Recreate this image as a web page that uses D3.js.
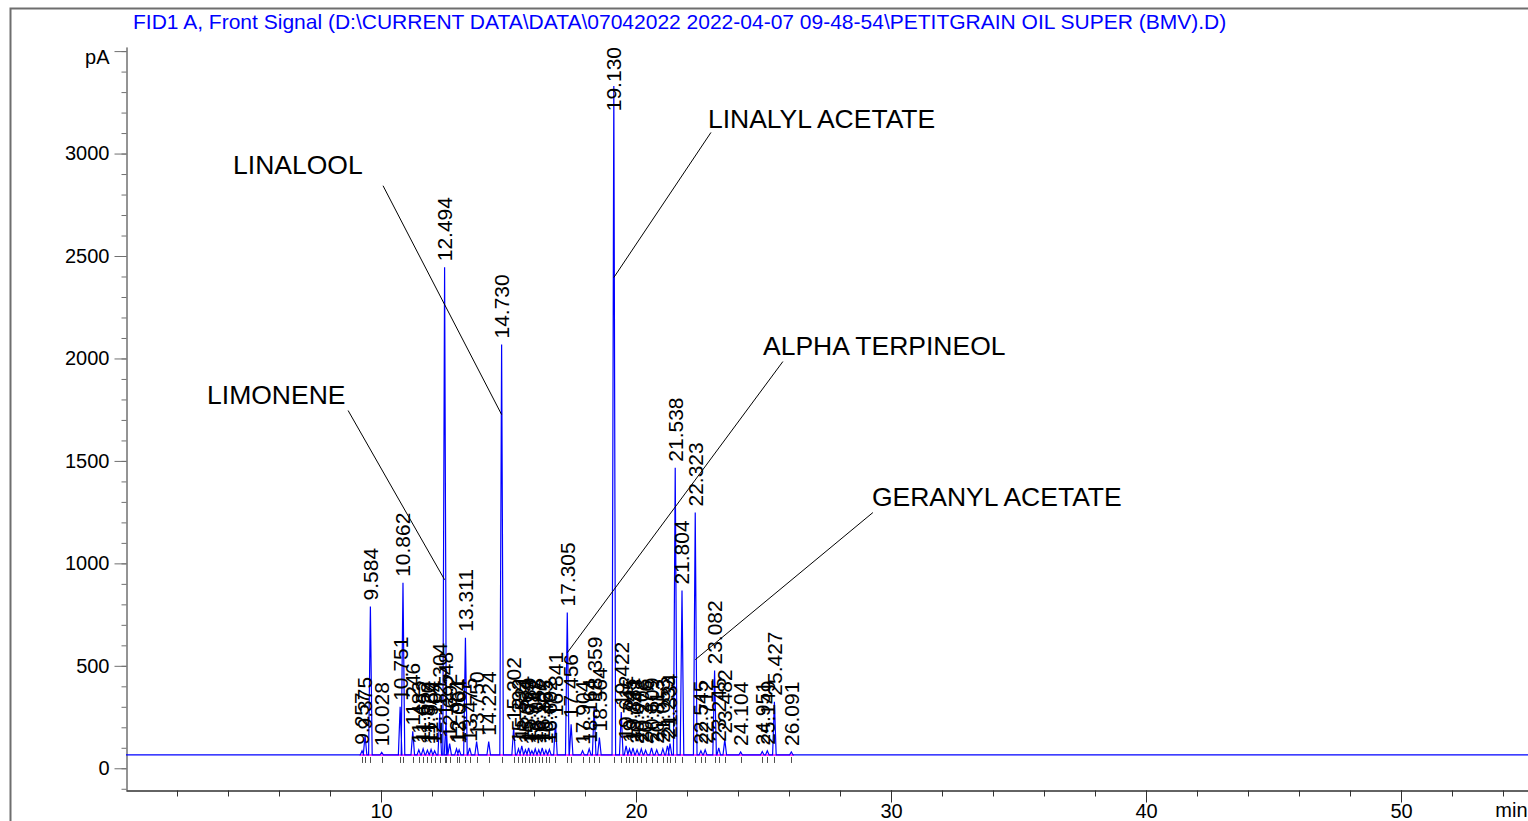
<!DOCTYPE html>
<html>
<head>
<meta charset="utf-8">
<script src="https://cdn.jsdelivr.net/npm/d3@7"></script>
<style>
body { margin: 0; background: #fff; }
svg { display: block; font-family: "Liberation Sans", Arial, sans-serif; }
</style>
</head>
<body>
<script>
var title = "FID1 A, Front Signal (D:\\CURRENT DATA\\DATA\\07042022 2022-04-07 09-48-54\\PETITGRAIN OIL SUPER (BMV).D)";

// retention time (min) and apex signal (pA)
var peakTimes = [9.257, 9.375, 9.584, 10.028, 10.751, 10.862, 11.246, 11.483, 11.652, 11.820,
  11.964, 12.104, 12.304, 12.494, 12.548, 12.692, 12.961, 13.064, 13.311, 13.475,
  13.750, 14.224, 14.730, 15.202, 15.392, 15.521, 15.664, 15.789, 15.917, 16.048,
  16.187, 16.322, 16.465, 16.602, 16.841, 17.305, 17.456, 17.904, 18.164, 18.359,
  18.564, 19.130, 19.422, 19.612, 19.745, 19.881, 20.042, 20.208, 20.376, 20.609,
  20.813, 21.053, 21.233, 21.334, 21.538, 21.804, 22.323, 22.545, 22.712, 23.082,
  23.245, 23.482, 24.104, 24.951, 25.149, 25.427, 26.091];
var peakHeights = [85, 160, 790, 78, 300, 905, 180, 90, 95, 88,
  92, 85, 270, 2445, 225, 120, 95, 90, 637, 100,
  130, 130, 2068, 200, 95, 110, 90, 100, 85, 95,
  90, 100, 88, 92, 225, 760, 215, 85, 95, 300,
  150, 3330, 275, 110, 95, 100, 90, 95, 88, 100,
  90, 95, 110, 120, 1467, 867, 1248, 85, 90, 477,
  100, 140, 80, 82, 85, 325, 80];
var baselineLevel = 65;
var runStart = 0, runEnd = 55;

var yMajorTicks = [0, 500, 1000, 1500, 2000, 2500, 3000, 3500];
var xMajorTicks = [10, 20, 30, 40, 50];

// compound notes: text position and leader line, in minutes / pA
var noteLabels = ["LINALYL ACETATE", "LINALOOL", "LIMONENE", "ALPHA TERPINEOL", "GERANYL ACETATE"];
var noteTextTime = [22.82, 4.20, 3.18, 24.98, 29.25];
var noteTextSignal = [3171, 2947, 1824, 2063, 1326];
var noteFromTime = [22.94, 10.08, 8.71, 25.76, 29.29];
var noteFromSignal = [3103, 2843, 1746, 1985, 1248];
var noteToTime = [19.130, 14.730, 12.494, 17.305, 22.323];
var noteToSignal = [2395, 1726, 920, 564, 530];

var W = 1528, H = 821;
var svg = d3.select('body').append('svg')
  .attr('width', W)
  .attr('height', H);

svg.append('rect')
  .attr('x', 10.5).attr('y', 8.5)
  .attr('width', W + 50).attr('height', H + 50)
  .attr('fill', '#fff')
  .attr('stroke', '#6e6e6e')
  .attr('stroke-width', 2);

var x = d3.scaleLinear().domain([runStart, runEnd]).range([126, 1528.5]);
var y = d3.scaleLinear().domain([-106, 3520]).range([790, 47]);

svg.append('text')
  .attr('x', 133)
  .attr('y', 29)
  .attr('fill', '#0000ff')
  .attr('font-size', 21)
  .text(title);

// axes
var yAxisG = svg.append('g').attr('transform', 'translate(126.5,0)');
yAxisG.append('g')
  .call(d3.axisLeft(y).tickValues(d3.range(-100, 3501, 100)).tickSize(5).tickSizeOuter(0).tickFormat(''));
yAxisG.append('g')
  .call(d3.axisLeft(y).tickValues(yMajorTicks).tickSize(12).tickSizeOuter(0).tickPadding(5)
    .tickFormat(function (d) { return d == 3500 ? 'pA' : d; }));
yAxisG.selectAll('path, line').attr('stroke', '#707070');
yAxisG.selectAll('text').attr('font-size', 20).attr('font-family', 'Liberation Sans, Arial, sans-serif').attr('fill', '#000');
yAxisG.selectAll('text').filter(function (d) { return d == 3500; }).attr('dy', '0.62em');

var xAxisG = svg.append('g').attr('transform', 'translate(0,790.5)');
xAxisG.append('g')
  .call(d3.axisBottom(x).tickValues(d3.range(2, 55, 2)).tickSize(6).tickSizeOuter(0).tickFormat(''));
xAxisG.append('g')
  .call(d3.axisBottom(x).tickValues(xMajorTicks).tickSize(12).tickSizeOuter(0).tickPadding(1));
xAxisG.selectAll('path, line').attr('stroke', '#303030');
xAxisG.selectAll('text').attr('font-size', 20).attr('font-family', 'Liberation Sans, Arial, sans-serif').attr('fill', '#000');
xAxisG.append('text')
  .attr('x', x(53.7))
  .attr('y', 12)
  .attr('dy', '0.71em')
  .attr('font-size', 20)
  .attr('fill', '#000')
  .text('min');

// integration baseline and peak markers
svg.append('line')
  .attr('x1', x(peakTimes[0] - 0.1)).attr('x2', x(peakTimes[peakTimes.length - 1] + 0.1))
  .attr('y1', y(baselineLevel)).attr('y2', y(baselineLevel))
  .attr('stroke', '#ff00ff')
  .attr('stroke-width', 1.5);

svg.append('g')
  .selectAll('line')
  .data(peakTimes)
  .enter().append('line')
  .attr('x1', function (d) { return Math.round(x(d)) + 0.5; })
  .attr('x2', function (d) { return Math.round(x(d)) + 0.5; })
  .attr('y1', y(baselineLevel) + 2)
  .attr('y2', y(baselineLevel) + 8)
  .attr('stroke', '#505050');

// signal trace
var halfWidth = 0.07;
var trace = [[runStart, baselineLevel]];
peakTimes.forEach(function (t, i) {
  trace.push([t - halfWidth, baselineLevel], [t, peakHeights[i]], [t + halfWidth, baselineLevel]);
});
trace.push([runEnd, baselineLevel]);

var line = d3.line()
  .x(function (d) { return x(d[0]); })
  .y(function (d) { return y(d[1]); });

svg.append('path')
  .datum(trace)
  .attr('fill', 'none')
  .attr('stroke', '#0000ff')
  .attr('stroke-width', 1.2)
  .attr('d', line);

// retention time labels, rotated, starting just above the apex
var plotTop = 47;
svg.append('g')
  .selectAll('text')
  .data(peakTimes)
  .enter().append('text')
  .attr('font-size', 21)
  .attr('fill', '#000')
  .attr('dy', '0.35em')
  .text(function (d) { return d3.format('.3f')(d); })
  .each(function (d, i) {
    var len = this.getComputedTextLength();
    var yy = Math.max(y(peakHeights[i]) - 6, plotTop + len);
    d3.select(this).attr('transform', 'translate(' + x(d) + ',' + yy + ') rotate(-90)');
  });

// compound notes
var notes = svg.append('g')
  .selectAll('g')
  .data(noteLabels)
  .enter().append('g');

notes.append('line')
  .attr('x1', function (d, i) { return x(noteFromTime[i]); })
  .attr('y1', function (d, i) { return y(noteFromSignal[i]); })
  .attr('x2', function (d, i) { return x(noteToTime[i]); })
  .attr('y2', function (d, i) { return y(noteToSignal[i]); })
  .attr('stroke', '#000')
  .attr('stroke-width', 1);

notes.append('text')
  .attr('x', function (d, i) { return x(noteTextTime[i]); })
  .attr('y', function (d, i) { return y(noteTextSignal[i]); })
  .attr('dy', '0.35em')
  .attr('font-size', 26.5)
  .attr('fill', '#000')
  .text(function (d) { return d; });
</script>
</body>
</html>
